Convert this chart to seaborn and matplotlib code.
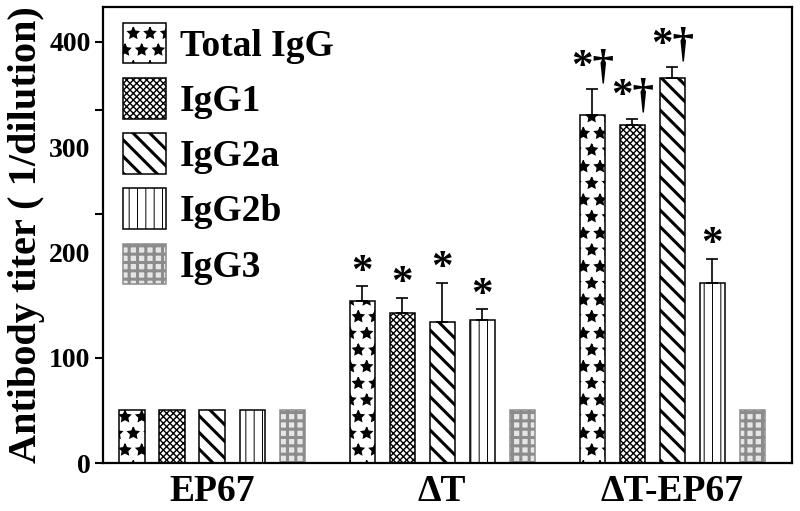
import matplotlib
matplotlib.use('Agg')
import matplotlib.pyplot as plt
import numpy as np
import pandas as pd
import seaborn as sns

# values
groups = ['EP67', 'ΔT', 'ΔT-EP67']
isotypes = ['Total IgG', 'IgG1', 'IgG2a', 'IgG2b', 'IgG3']
titer_ep67 = [50, 50, 50, 50, 50]
titer_dt = [154, 142, 134, 136, 50]
titer_dt_ep67 = [330, 321, 366, 171, 50]
err_ep67 = [0, 0, 0, 0, 0]
err_dt = [14, 15, 37, 10, 0]
err_dt_ep67 = [25, 6, 10, 23, 0]
marks_ep67 = ['', '', '', '', '']
marks_dt = ['*', '*', '*', '*', '']
marks_dt_ep67 = ['*†', '*†', '*†', '*', '']
yticks = [0, 100, 200, 300, 400]
ytick_marks = [236, 335]  # tick marks in the original sit off the 200/300 labels

df = pd.DataFrame({
    'group': np.repeat(groups, len(isotypes)),
    'isotype': isotypes * len(groups),
    'titer': titer_ep67 + titer_dt + titer_dt_ep67,
    'err': err_ep67 + err_dt + err_dt_ep67,
    'mark': marks_ep67 + marks_dt + marks_dt_ep67,
})

sns.set_style('ticks', {'axes.edgecolor': 'black', 'text.color': 'black',
                        'axes.labelcolor': 'black', 'xtick.color': 'black',
                        'ytick.color': 'black'})
plt.rcParams['font.family'] = ['Liberation Serif', 'DejaVu Serif']
plt.rcParams['font.weight'] = 'bold'

fig = plt.figure(figsize=(8, 5.11), dpi=100)
ax = fig.add_axes([103/800, 48/511, 689/800, 456/511])

sns.barplot(data=df, x='group', y='titer', hue='isotype', order=groups,
            hue_order=isotypes, palette=['white', 'white', 'white', 'white', '#e6e6e6'],
            width=0.87, gap=0.37, errorbar=None, edgecolor='black', linewidth=1.1,
            legend=False, ax=ax)
bar_conts = list(ax.containers)

hatches = ['*', 'xxxxx', '\\\\', '||', '++']
hatch_lw = [1.0, 1.0, 2.2, 0.7, 2.2]
edges = ['black', 'black', 'black', 'black', '#8c8c8c']

for i, cont in enumerate(bar_conts):
    sub = df[df.isotype == isotypes[i]]
    for p, (_, row) in zip(cont.patches, sub.iterrows()):
        p.set_hatch(hatches[i])
        p.set_edgecolor(edges[i])
        p.set_hatch_linewidth(hatch_lw[i])
        xc = p.get_x() + p.get_width() / 2
        top = row.titer + row.err
        if row.err > 0:
            ax.errorbar(xc, row.titer, yerr=[[0], [row.err]], fmt='none',
                        ecolor='black', elinewidth=1.2, capsize=4, capthick=1.2)
        if row.mark:
            dy = 2 if '†' in row.mark else -4
            ax.annotate(row.mark, xy=(xc, top), xytext=(0, dy), textcoords='offset points',
                        ha='center', va='bottom', fontsize=31, fontweight='bold')

ax.set_xlim(-0.474, 2.52)
ax.set_ylim(0, 433)
ax.set_yticks(yticks)
ax.set_yticks(ytick_marks, minor=True)
for t in ax.yaxis.get_major_ticks()[2:4]:
    t.tick1line.set_visible(False)
ax.tick_params(axis='y', which='both', direction='out', length=6, width=1.5,
               labelsize=20, pad=3)
ax.tick_params(axis='x', length=0, labelsize=27, pad=8)
for s in ax.spines.values():
    s.set_visible(True)
    s.set_linewidth(1.6)

ax.set_xlabel('')
ax.set_ylabel('Antibody titer ( 1/dilution)', fontsize=29, fontweight='bold', labelpad=3)

leg = ax.legend(handles=bar_conts, labels=isotypes, loc='upper left',
                bbox_to_anchor=(0.029, 0.966), frameon=False,
                prop={'size': 27, 'weight': 'bold'}, handlelength=1.15, handleheight=1.3,
                labelspacing=0.38, handletextpad=0.37, borderpad=0, borderaxespad=0)
for h, lw in zip(leg.legend_handles, hatch_lw):
    h.set_hatch_linewidth(lw)

fig.savefig('out.png', dpi=100)
